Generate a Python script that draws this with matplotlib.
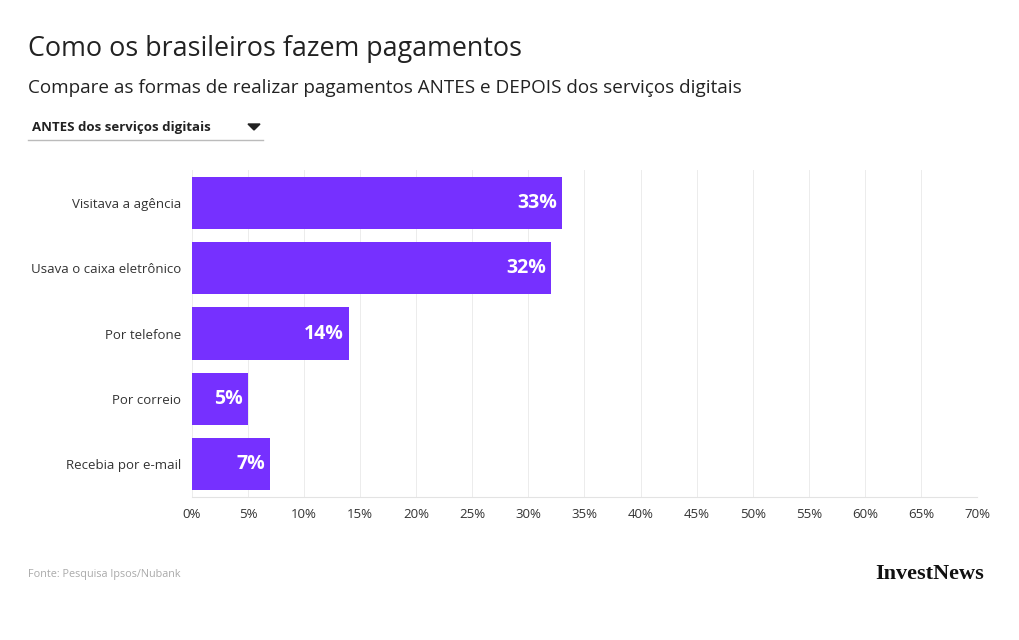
import matplotlib
matplotlib.use("Agg")
import matplotlib.pyplot as plt
import numpy as np

# dados
categorias = ["Visitava a agência", "Usava o caixa eletrônico", "Por telefone",
              "Por correio", "Recebia por e-mail"]
valores = [33, 32, 14, 5, 7]
ticks = list(range(0, 75, 5))
tick_labels = [f"{t}%" for t in ticks]

titulo = "Como os brasileiros fazem pagamentos"
subtitulo = "Compare as formas de realizar pagamentos ANTES e DEPOIS dos serviços digitais"
seletor = "ANTES dos serviços digitais"
fonte = "Fonte: Pesquisa Ipsos/Nubank"

plt.rcParams['font.family'] = ['Open Sans', 'DejaVu Sans']

fig = plt.figure(figsize=(10.2, 6.4), dpi=100)
ax = fig.add_axes([192/1020, 1-497/640, (977-192)/1020, (497-170)/640])

y = np.arange(len(categorias))
ax.barh(y, valores, height=0.8, color="#7630ff", zorder=2)
for yi, v in zip(y, valores):
    ax.text(v - 0.45, yi, f"{v}%", color="white", fontsize=14, fontweight="bold",
            ha="right", va="center", zorder=3)

ax.set_xlim(0, 70)
ax.set_ylim(4.5, -0.5)
ax.set_xticks(ticks)
ax.set_xticklabels(tick_labels, fontsize=9.5, color="#333333")
ax.set_yticks(y)
ax.set_yticklabels(categorias, fontsize=9.5, color="#333333")
ax.tick_params(axis="both", length=0, pad=8)
ax.tick_params(axis="y", pad=8)
ax.grid(axis="x", color="#ececec", linewidth=0.7, zorder=3)
for s in ["top", "right", "left"]:
    ax.spines[s].set_visible(False)
ax.spines["bottom"].set_color("#e3e3e3")

fig.text(28/1020, 1-49/640, titulo, fontsize=19.4, color="#222222", va="center")
fig.text(28/1020, 1-88/640, subtitulo, fontsize=13.6, color="#222222", va="center")
fig.text(32/1020, 1-127/640, seletor, fontsize=9.5, fontweight="bold", color="#222222", va="center")
tri = plt.Polygon([[248/1020, 1-124/640], [260/1020, 1-124/640], [254/1020, 1-130/640]],
                  closed=True, color="#222222", transform=fig.transFigure)
fig.add_artist(tri)
fig.add_artist(plt.Line2D([28/1020, 263/1020], [1-140/640, 1-140/640], color="#bbbbbb", linewidth=1))

fig.text(28/1020, 1-575/640, fonte, fontsize=7.8, color="#aaaaaa", va="center")
fig.text(984/1020, 1-574/640, "InvestNews", fontsize=16, color="#111111", va="center", ha="right",
         family="Liberation Serif", fontweight="bold")

fig.savefig("out.png", dpi=100, facecolor="white")
